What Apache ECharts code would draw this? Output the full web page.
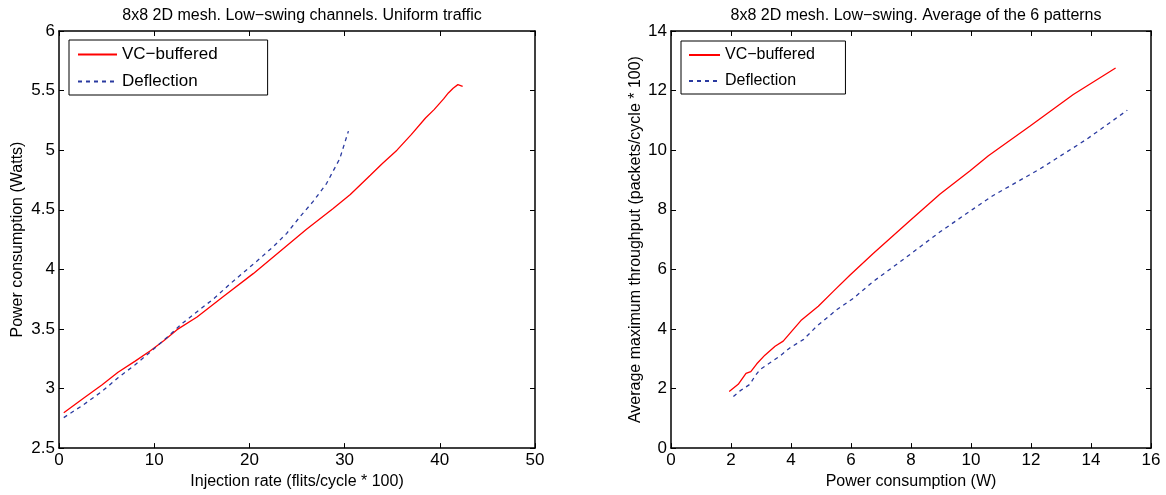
<!DOCTYPE html>
<html>
<head>
<meta charset="utf-8">
<script src="https://cdn.jsdelivr.net/npm/echarts@6/dist/echarts.min.js"></script>
<style>
html,body{margin:0;padding:0;background:#fff;}
#chart{width:1166px;height:495px;}
</style>
</head>
<body>
<div id="chart"></div>
<script>
// Left chart: injection rate vs power
const leftTitle = '8x8 2D mesh. Low\u2212swing channels. Uniform traffic';
const rightTitle = '8x8 2D mesh. Low\u2212swing. Average of the 6 patterns';
const seriesNames = ['VC\u2212buffered', 'Deflection'];

const vcRate  = [0.5, 2.5, 4.5, 6.2, 8, 9.6, 11, 12.4, 14.5, 17.3, 20.4, 23.2, 26, 28.8, 30.6, 32.7, 34, 35.5, 37, 38.5, 39.4, 40.4, 40.9, 41.4, 41.9, 42.4];
const vcPower = [2.797, 2.914, 3.03, 3.136, 3.23, 3.317, 3.40, 3.494, 3.60, 3.775, 3.964, 4.15, 4.336, 4.511, 4.628, 4.789, 4.89, 5.0, 5.13, 5.27, 5.34, 5.43, 5.48, 5.52, 5.55, 5.536];
const defRate  = [0.5, 2.5, 4.5, 6.2, 8, 9.5, 11.5, 13, 14.5, 16.2, 18, 20.8, 22.5, 23.9, 25.3, 26.7, 28.1, 29.5, 30.4];
const defPower = [2.756, 2.86, 2.975, 3.09, 3.20, 3.30, 3.44, 3.55, 3.645, 3.75, 3.88, 4.07, 4.19, 4.30, 4.44, 4.57, 4.72, 4.93, 5.16];

// Right chart: power vs average max throughput
const vcWatts = [1.94, 2.24, 2.5, 2.66, 2.86, 3.13, 3.47, 3.74, 4.02, 4.33, 4.91, 5.41, 5.97, 6.74, 7.97, 8.97, 9.97, 10.58, 11.97, 13.41, 14.82];
const vcThru  = [1.9, 2.14, 2.51, 2.57, 2.83, 3.12, 3.42, 3.59, 3.92, 4.28, 4.76, 5.26, 5.81, 6.53, 7.64, 8.53, 9.31, 9.81, 10.81, 11.87, 12.76];
const defWatts = [2.08, 2.3, 2.63, 2.8, 2.97, 3.63, 3.97, 4.41, 4.86, 5.52, 6.08, 6.74, 7.86, 8.97, 10.08, 10.74, 12.3, 13.86, 15.21];
const defThru  = [1.73, 1.92, 2.14, 2.42, 2.64, 3.09, 3.37, 3.64, 4.09, 4.64, 5.03, 5.59, 6.42, 7.26, 8.03, 8.48, 9.37, 10.37, 11.34];

const zip = (a, b) => a.map((v, i) => [v, b[i]]);

const FONT = 'Liberation Sans, Arial, Helvetica, sans-serif';
const RED = '#ff0000';
const BLUE = '#2a3aa0';

function mainAxis(grid, pos, min, max, interval, name, nameGap) {
  return {
    type: 'value', gridIndex: grid, position: pos, min, max, interval,
    name, nameLocation: 'middle', nameGap,
    nameTextStyle: {color: '#000', fontSize: 16, fontFamily: FONT},
    axisLine: {show: true, onZero: false, lineStyle: {color: '#000', width: 1.5}},
    axisTick: {show: true, inside: true, length: 5, lineStyle: {color: '#000', width: 1}},
    axisLabel: {show: true, color: '#000', fontSize: 17, fontFamily: FONT, margin: 4},
    splitLine: {show: false}
  };
}
function mirrorAxis(grid, pos, min, max, interval) {
  return {
    type: 'value', gridIndex: grid, position: pos, min, max, interval,
    axisLine: {show: true, onZero: false, lineStyle: {color: '#000', width: 1.5}},
    axisTick: {show: true, inside: true, length: 5, lineStyle: {color: '#000', width: 1}},
    axisLabel: {show: false},
    splitLine: {show: false}
  };
}

const chart = echarts.init(document.getElementById('chart'), null, {renderer: 'canvas'});
chart.setOption({
  backgroundColor: '#fff',
  animation: false,
  title: [
    {text: leftTitle, left: 297, top: 3, textAlign: 'center',
     textStyle: {color: '#000', fontSize: 16, fontWeight: 'normal', fontFamily: FONT}},
    {text: rightTitle, left: 911, top: 3, textAlign: 'center',
     textStyle: {color: '#000', fontSize: 16, fontWeight: 'normal', fontFamily: FONT}}
  ],
  grid: [
    {left: 59, top: 31, width: 476, height: 420},
    {left: 671, top: 31, width: 480, height: 420}
  ],
  legend: [
    {left: 69, top: 40, orient: 'vertical', itemWidth: 39, itemHeight: 14, itemGap: 10,
     padding: [6, 50, 5, 8], borderColor: '#000', borderWidth: 1, backgroundColor: '#fff',
     itemStyle: {opacity: 0},
     textStyle: {color: '#000', fontSize: 17, fontFamily: FONT},
     data: [{name: seriesNames[0]}, {name: seriesNames[1]}]},
    {left: 681, top: 41, orient: 'vertical', itemWidth: 31, itemHeight: 14, itemGap: 10,
     padding: [6, 26, 5, 7], borderColor: '#000', borderWidth: 1, backgroundColor: '#fff',
     itemStyle: {opacity: 0},
     textStyle: {color: '#000', fontSize: 16, fontFamily: FONT},
     data: [{name: seriesNames[0] + ' '}, {name: seriesNames[1] + ' '}]}
  ],
  xAxis: [
    mainAxis(0, 'bottom', 0, 50, 10, 'Injection rate (flits/cycle * 100)', 22),
    mirrorAxis(0, 'top', 0, 50, 10),
    mainAxis(1, 'bottom', 0, 16, 2, 'Power consumption (W)', 22),
    mirrorAxis(1, 'top', 0, 16, 2)
  ],
  yAxis: [
    mainAxis(0, 'left', 2.5, 6, 0.5, 'Power consumption (Watts)', 33),
    mirrorAxis(0, 'right', 2.5, 6, 0.5),
    mainAxis(1, 'left', 0, 14, 2, 'Average maximum throughput (packets/cycle * 100)', 27),
    mirrorAxis(1, 'right', 0, 14, 2)
  ],
  series: [
    {name: seriesNames[0], type: 'line', xAxisIndex: 0, yAxisIndex: 0, data: zip(vcRate, vcPower),
     symbol: 'none', showSymbol: false, lineStyle: {color: RED, width: 1.3}, itemStyle: {color: RED}},
    {name: seriesNames[1], type: 'line', xAxisIndex: 0, yAxisIndex: 0, data: zip(defRate, defPower),
     symbol: 'none', showSymbol: false, lineStyle: {color: BLUE, width: 1.3, type: [4, 4]}, itemStyle: {color: BLUE}},
    {name: seriesNames[0] + ' ', type: 'line', xAxisIndex: 2, yAxisIndex: 2, data: zip(vcWatts, vcThru),
     symbol: 'none', showSymbol: false, lineStyle: {color: RED, width: 1.3}, itemStyle: {color: RED}},
    {name: seriesNames[1] + ' ', type: 'line', xAxisIndex: 2, yAxisIndex: 2, data: zip(defWatts, defThru),
     symbol: 'none', showSymbol: false, lineStyle: {color: BLUE, width: 1.3, type: [4, 4]}, itemStyle: {color: BLUE}}
  ]
});
</script>
</body>
</html>
